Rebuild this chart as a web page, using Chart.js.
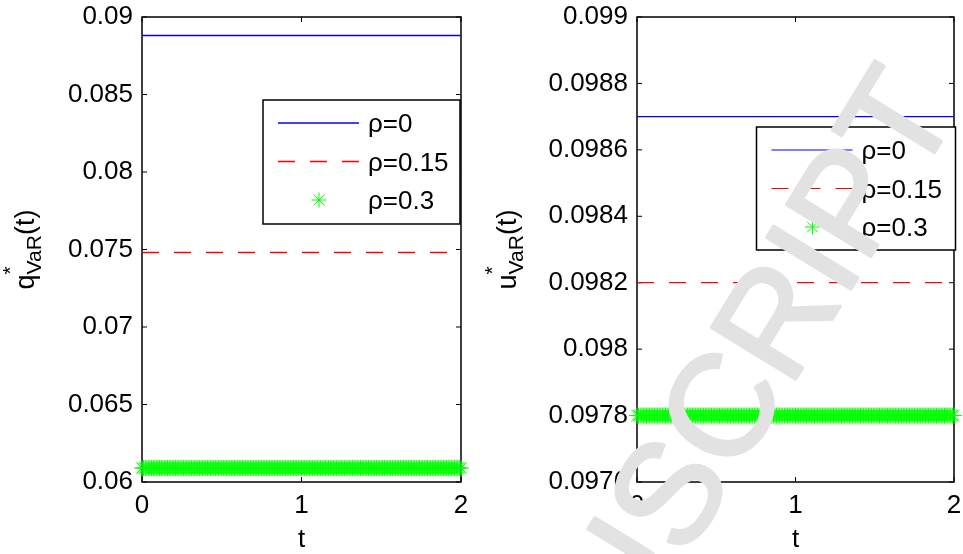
<!DOCTYPE html>
<html>
<head>
<meta charset="utf-8">
<script src="https://cdn.jsdelivr.net/npm/chart.js@4.4.1/dist/chart.umd.min.js"></script>
<style>
  html, body { margin: 0; padding: 0; background: #fff; }
  #wrap { position: relative; width: 963px; height: 554px; overflow: hidden; }
  canvas { position: absolute; top: 0; }
</style>
</head>
<body>
<div id="wrap">
  <canvas id="qChart" width="480" height="554" style="left:0"></canvas>
  <canvas id="uChart" width="483" height="554" style="left:480px"></canvas>
</div>
<script>
const FONT = '"Liberation Sans", Arial, Helvetica, sans-serif';
const FS = 26;

// time axis
const tTicks = [0, 1, 2];
const tGrid = Array.from({ length: 201 }, (_, i) => i * 0.01);
const rhoLabels = ['ρ=0', 'ρ=0.15', 'ρ=0.3'];

// optimal q*_VaR(t) for each rho
const qValues = [0.0888, 0.0748, 0.0609];
const qTicks = [0.06, 0.065, 0.07, 0.075, 0.08, 0.085, 0.09];
const qTickLabels = ['0.06', '0.065', '0.07', '0.075', '0.08', '0.085', '0.09'];

// optimal u*_VaR(t) for each rho
const uValues = [0.0987, 0.0982, 0.0978];
const uTicks = [0.0976, 0.0978, 0.098, 0.0982, 0.0984, 0.0986, 0.0988, 0.099];
const uTickLabels = ['0.0976', '0.0978', '0.098', '0.0982', '0.0984', '0.0986', '0.0988', '0.099'];

const seriesStyle = [
  { color: '#0000ff', dash: [], star: false },
  { color: '#ff0000', dash: [17, 15], star: false },
  { color: '#00ff00', dash: [], star: true }
];

function buildDatasets(values, lineWidth) {
  return values.map((v, i) => {
    const st = seriesStyle[i];
    return {
      label: rhoLabels[i],
      data: tGrid.map(t => ({ x: t, y: v })),
      borderColor: st.color,
      backgroundColor: st.color,
      borderWidth: st.star ? 1 : lineWidth,
      borderDash: st.dash,
      showLine: !st.star,
      pointStyle: st.star ? 'star' : 'circle',
      pointRadius: st.star ? 8 : 0,
      pointHoverRadius: 0,
      pointBorderWidth: 1,
      clip: st.star ? false : undefined
    };
  });
}

function drawStar(ctx, x, y, r, color) {
  ctx.save();
  ctx.strokeStyle = color;
  ctx.lineWidth = 1;
  ctx.beginPath();
  for (let k = 0; k < 4; k++) {
    const a = k * Math.PI / 4;
    ctx.moveTo(x - Math.cos(a) * r, y - Math.sin(a) * r);
    ctx.lineTo(x + Math.cos(a) * r, y + Math.sin(a) * r);
  }
  ctx.stroke();
  ctx.restore();
}

// box round the axes with inward ticks on all four sides
function drawFrame(chart) {
  const { ctx, chartArea: ca, scales } = chart;
  ctx.save();
  ctx.strokeStyle = '#000';
  ctx.lineWidth = 1.5;
  ctx.strokeRect(ca.left, ca.top, ca.right - ca.left, ca.bottom - ca.top);
  ctx.lineWidth = 1;
  ctx.beginPath();
  scales.y.ticks.forEach(t => {
    const y = scales.y.getPixelForValue(t.value);
    ctx.moveTo(ca.left, y); ctx.lineTo(ca.left + 5, y);
    ctx.moveTo(ca.right, y); ctx.lineTo(ca.right - 5, y);
  });
  scales.x.ticks.forEach(t => {
    const x = scales.x.getPixelForValue(t.value);
    ctx.moveTo(x, ca.bottom); ctx.lineTo(x, ca.bottom - 5);
    ctx.moveTo(x, ca.top); ctx.lineTo(x, ca.top + 5);
  });
  ctx.stroke();
  ctx.restore();
}

function drawAxisTitles(chart, letter, labelX) {
  const { ctx, chartArea: ca } = chart;
  ctx.save();
  ctx.fillStyle = '#000';
  ctx.textBaseline = 'alphabetic';

  // x title
  ctx.font = FS + 'px ' + FONT;
  ctx.textAlign = 'center';
  ctx.fillText('t', (ca.left + ca.right) / 2, 547);

  // y title: letter with * superscript and VaR subscript
  const main = '27px ' + FONT, small = '21px ' + FONT;
  ctx.textAlign = 'left';
  ctx.translate(labelX, (ca.top + ca.bottom) / 2);
  ctx.rotate(-Math.PI / 2);
  ctx.font = main;
  const wLetter = ctx.measureText(letter).width;
  const wParen = ctx.measureText('(t)').width;
  ctx.font = small;
  const wSub = ctx.measureText('VaR').width;
  let x = -(wLetter + wSub + wParen) / 2;
  ctx.font = main;
  ctx.fillText(letter, x, 0);
  x += wLetter;
  ctx.font = small;
  ctx.fillText('*', x, -17);
  ctx.fillText('VaR', x, 7);
  x += wSub;
  ctx.font = main;
  ctx.fillText('(t)', x, 0);
  ctx.restore();
}

function drawLegend(chart, box) {
  const { ctx, chartArea: ca } = chart;
  const left = ca.right + box.dx - box.w;
  const top = ca.top + box.dy;
  ctx.save();
  ctx.fillStyle = '#fff';
  ctx.fillRect(left, top, box.w, box.h);
  ctx.strokeStyle = '#000';
  ctx.lineWidth = 1.5;
  ctx.strokeRect(left, top, box.w, box.h);
  chart.data.datasets.forEach((ds, i) => {
    const y = top + 23 + i * 38.5;
    if (ds.showLine) {
      ctx.strokeStyle = ds.borderColor;
      ctx.lineWidth = ds.borderWidth;
      ctx.setLineDash(ds.borderDash);
      ctx.beginPath();
      ctx.moveTo(left + 15, y);
      ctx.lineTo(left + 96, y);
      ctx.stroke();
      ctx.setLineDash([]);
    } else {
      drawStar(ctx, left + 56, y, 7.5, ds.borderColor);
    }
    ctx.fillStyle = '#000';
    ctx.font = FS + 'px ' + FONT;
    ctx.textBaseline = 'middle';
    ctx.textAlign = 'left';
    ctx.fillText(ds.label, left + 105, y + 2);
  });
  ctx.restore();
}

function makePanel(id, values, ticks, tickLabels, cfg) {
  const panelPlugin = {
    id: 'panel_' + id,
    beforeDatasetsDraw(chart) { drawFrame(chart); },
    afterDatasetsDraw(chart) {
      drawLegend(chart, cfg.legend);
      drawAxisTitles(chart, cfg.letter, cfg.labelX);
    },
    afterDraw(chart) { if (cfg.stamp) cfg.stamp(chart); }
  };

  return new Chart(document.getElementById(id), {
    type: 'line',
    data: { datasets: buildDatasets(values, cfg.lineWidth) },
    options: {
      responsive: false,
      animation: false,
      devicePixelRatio: 1,
      layout: { padding: { top: 17, right: cfg.padRight, bottom: 0, left: 0 } },
      plugins: { legend: { display: false }, tooltip: { enabled: false } },
      scales: {
        x: {
          type: 'linear', min: 0, max: 2,
          afterBuildTicks: s => { s.ticks = tTicks.map(v => ({ value: v })); },
          afterFit: s => { s.height = 72; s.paddingLeft = 0; s.paddingRight = 0; },
          ticks: { color: '#000', font: { family: FONT, size: FS }, padding: 8, maxRotation: 0,
                   callback: v => String(v) },
          grid: { display: false, drawTicks: false },
          border: { display: false }
        },
        y: {
          type: 'linear', min: ticks[0], max: ticks[ticks.length - 1],
          afterBuildTicks: s => { s.ticks = ticks.map(v => ({ value: v })); },
          afterFit: s => { s.width = cfg.yWidth; s.paddingTop = 0; s.paddingBottom = 0; },
          ticks: { color: '#000', font: { family: FONT, size: FS }, padding: 9,
                   callback: (v, i) => tickLabels[i] },
          grid: { display: false, drawTicks: false },
          border: { display: false }
        }
      }
    },
    plugins: [panelPlugin]
  });
}

// light grey stamp lettering across the right panel
function drawStamp(chart) {
  const ctx = chart.ctx;
  ctx.save();
  ctx.translate(481, 109.5);
  ctx.rotate(-58.5 * Math.PI / 180);
  ctx.font = '144px ' + FONT;
  ctx.textAlign = 'right';
  ctx.textBaseline = 'alphabetic';
  ctx.fillStyle = '#e2e2e2';
  ctx.strokeStyle = '#e2e2e2';
  ctx.lineWidth = 3;
  ctx.lineJoin = 'round';
  ctx.fillText('ACCEPTED MANUSCRIPT', 0, 0);
  ctx.strokeText('ACCEPTED MANUSCRIPT', 0, 0);
  ctx.restore();
}

makePanel('qChart', qValues, qTicks, qTickLabels, {
  letter: 'q', labelX: 34, yWidth: 142, padRight: 19, lineWidth: 1.5,
  legend: { dx: -1, dy: 83, w: 197, h: 124 }
});

makePanel('uChart', uValues, uTicks, uTickLabels, {
  letter: 'u', labelX: 36, yWidth: 157, padRight: 6, lineWidth: 1.2,
  legend: { dx: 1.5, dy: 110, w: 199, h: 123 },
  stamp: drawStamp
});
</script>
</body>
</html>
